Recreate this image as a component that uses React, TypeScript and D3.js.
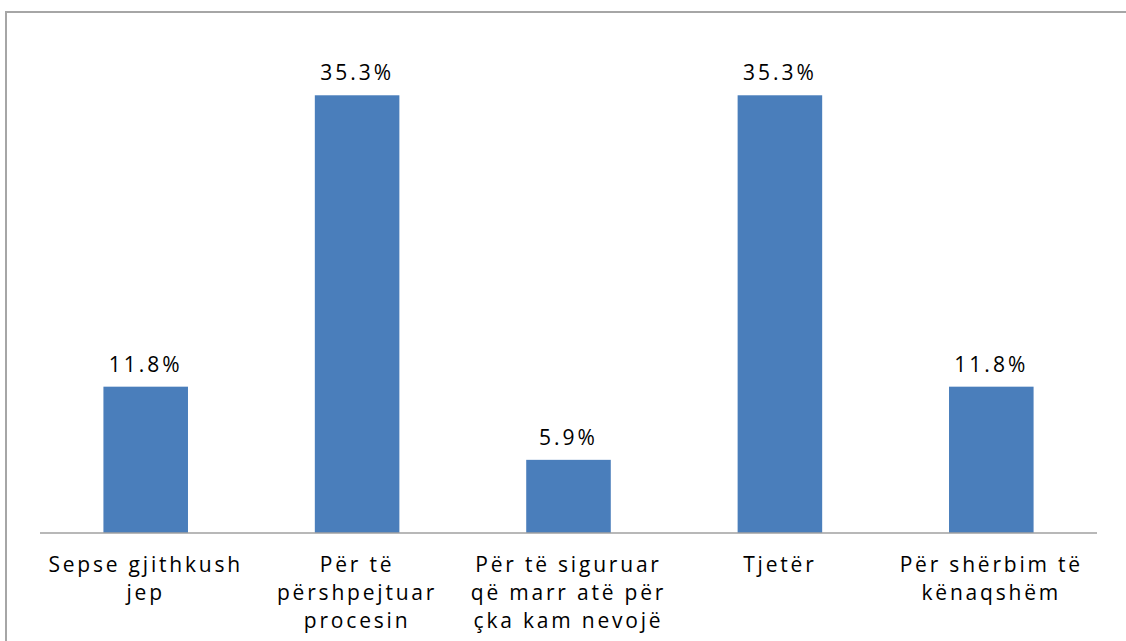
import React from "react";
import * as d3 from "d3";

const categories: string[][] = [
  ["Sepse gjithkush", "jep"],
  ["Për të", "përshpejtuar", "procesin"],
  ["Për të siguruar", "që marr atë për", "çka kam nevojë"],
  ["Tjetër"],
  ["Për shërbim të", "kënaqshëm"],
];
const values: number[] = [11.8, 35.3, 5.9, 35.3, 11.8];
const valueLabels: string[] = ["11.8%", "35.3%", "5.9%", "35.3%", "11.8%"];

const W = 1126;
const H = 641;
const left = 40;
const right = 1097;
const base = 533;

export default function App() {
  const x = d3
    .scaleBand<number>()
    .domain(values.map((_, i) => i))
    .range([left, right])
    .paddingInner(0.6)
    .paddingOuter(0.3);
  const y = d3.scaleLinear().domain([0, 40]).range([base, 37]);
  const font = "'Open Sans', sans-serif";
  return (
    <svg
      width={W}
      height={H}
      style={{ position: "absolute", left: 0, top: 0, background: "#fff" }}
    >
      <rect x={6} y={12} width={W + 20} height={H + 20} fill="#fff" stroke="#a6a6a6" strokeWidth={2} />
      {values.map((v, i) => (
        <rect
          key={"b" + i}
          x={x(i)!}
          y={y(v)}
          width={x.bandwidth()}
          height={base - y(v)}
          fill="#4A7EBB"
        />
      ))}
      <line x1={left} x2={right} y1={base} y2={base} stroke="#a0a0a0" strokeWidth={1.5} />
      {values.map((v, i) => (
        <text
          key={"v" + i}
          x={x(i)! + x.bandwidth() / 2}
          y={y(v) - 15}
          textAnchor="middle"
          fontFamily={font}
          fontSize={21}
          letterSpacing={3}
          fill="#000"
        >
          {valueLabels[i]}
        </text>
      ))}
      {categories.map((lines, i) => (
        <text
          key={"c" + i}
          x={x(i)! + x.bandwidth() / 2}
          y={572}
          textAnchor="middle"
          fontFamily={font}
          fontSize={21}
          letterSpacing={2.8}
          fill="#000"
        >
          {lines.map((l, j) => (
            <tspan key={j} x={x(i)! + x.bandwidth() / 2} y={572 + j * 28}>
              {l}
            </tspan>
          ))}
        </text>
      ))}
    </svg>
  );
}
